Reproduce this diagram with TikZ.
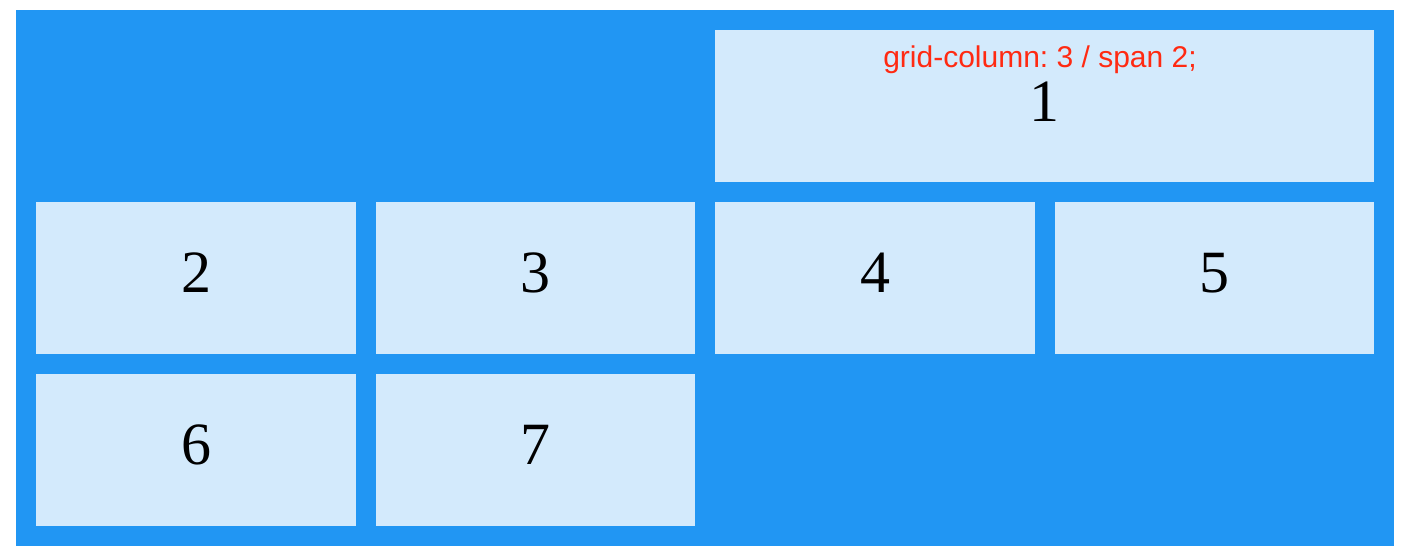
\documentclass[tikz,border=0pt]{standalone}
\usepackage{fontspec}
\setmainfont{Liberation Serif}
\newfontfamily\labelfont{Liberation Sans}
\frenchspacing
\definecolor{gridblue}{HTML}{2196F3}
\definecolor{celllight}{HTML}{D3EAFC}
\definecolor{labelred}{HTML}{FF2A12}
\begin{document}
\begin{tikzpicture}[x=0.75pt,y=-0.75pt,
  cellbox/.style={fill=celllight,draw=none},
  digit/.style={font=\fontsize{45}{45}\selectfont,anchor=base,inner sep=0pt},
  redlabel/.style={font=\labelfont\fontsize{22.5}{23}\selectfont,text=labelred,anchor=base,inner sep=0pt}]
\useasboundingbox (0,0) rectangle (1410,554);
\fill[white] (0,0) rectangle (1410,554);
\fill[gridblue] (16,10) rectangle (1394,546);
% row 1
\path[cellbox] (715,30) rectangle (1374,182);
% row 2
\path[cellbox] (36,202) rectangle (356,354);
\path[cellbox] (376,202) rectangle (695,354);
\path[cellbox] (715,202) rectangle (1035,354);
\path[cellbox] (1055,202) rectangle (1374,354);
% row 3
\path[cellbox] (36,374) rectangle (356,526);
\path[cellbox] (376,374) rectangle (695,526);
\node[redlabel] (lbl) at (1040,67) {grid-column: 3 / span 2;};
\node[digit] (n1) at (1044.5,121) {1};
\node[digit] (n2) at (196,292) {2};
\node[digit] (n3) at (535.5,292) {3};
\node[digit] (n4) at (875,292) {4};
\node[digit] (n5) at (1214.5,292) {5};
\node[digit] (n6) at (196,464) {6};
\node[digit] (n7) at (535.5,464) {7};
\end{tikzpicture}
\end{document}
